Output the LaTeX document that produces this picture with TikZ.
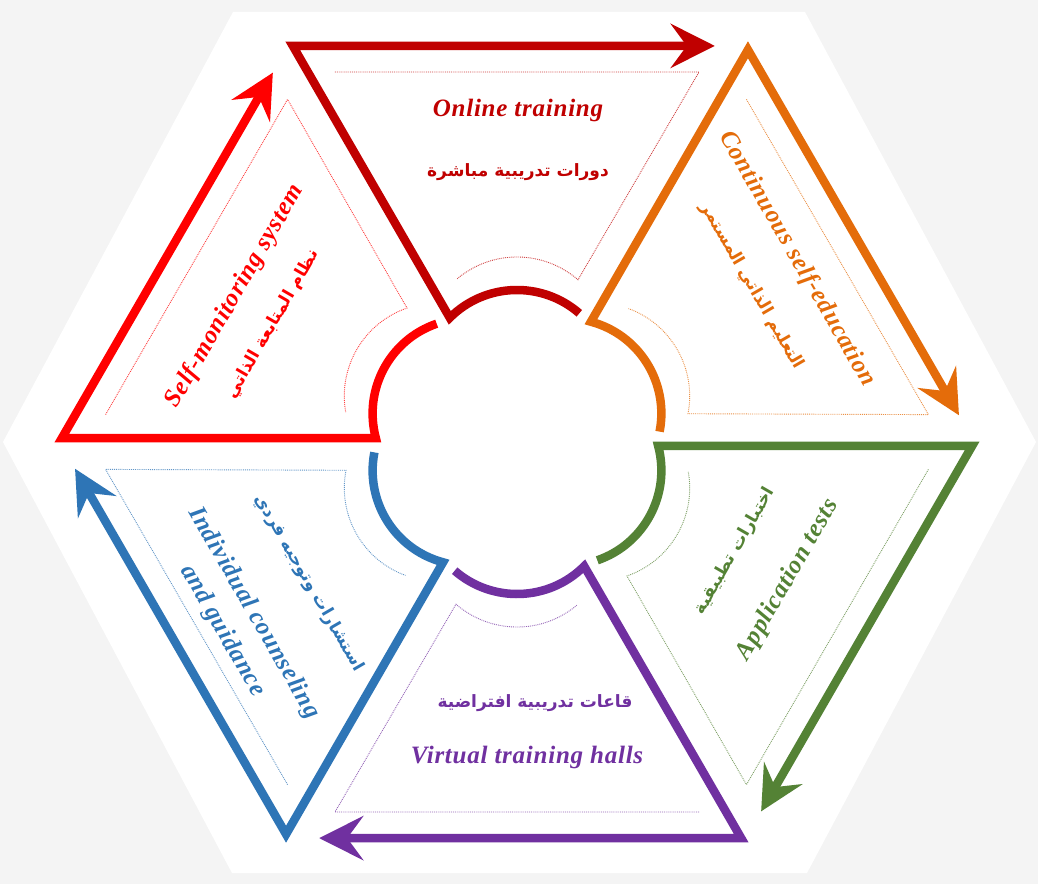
\documentclass[tikz,border=0pt]{standalone}
\usepackage{fontspec}
\newfontfamily\arabicfont[Script=Arabic]{DejaVu Sans}
\newfontfamily\englishfont[LetterSpace=3]{Liberation Serif}
\TeXXeTstate=1
\usetikzlibrary{arrows.meta}

\definecolor{bggray}{HTML}{F4F4F4}
\definecolor{segdarkred}{HTML}{C00000}
\definecolor{segorange}{HTML}{E46C0A}
\definecolor{seggreen}{HTML}{548235}
\definecolor{segpurple}{HTML}{7030A0}
\definecolor{segblue}{HTML}{2E75B6}
\definecolor{segred}{HTML}{FF0000}

\tikzset{
  band/.style={line width=8.5pt,line join=miter,-{Stealth[length=44pt,width=44pt,inset=16pt]}},
  inner/.style={densely dotted,line width=0.9pt},
  entext/.style={font=\englishfont\fontsize{25}{29}\selectfont\bfseries\itshape},
  artext/.style={font=\arabicfont\bfseries\fontsize{17}{20}\selectfont},
}

\begin{document}
\begin{tikzpicture}[x=1pt,y=1pt]
%\draw[step=50,lightgray,very thin] (-517,-442) grid (521,442);
\useasboundingbox (-517,-442) rectangle (521,442);
\fill[bggray] (-517,-442) rectangle (521,442);
\fill[white] (-284,430) -- (288,430) -- (519,0) -- (290,-431) -- (-285,-431) -- (-514,0) -- cycle;

\foreach \k/\col in {0/segdarkred,1/segorange,2/seggreen,3/segpurple,4/segblue,5/segred}{
  \begin{scope}[rotate=-60*\k]
    \draw[band,color=\col] (62.3,128.7) arc[start angle=49,end angle=135,radius=95]
      -- ++(120:314) -- ++(0:422);
    \draw[inner,color=\col!75] (-182,370) -- (182,370) -- (61,162.2)
      arc[start angle=49,end angle=130,radius=93];
  \end{scope}
}

\node[entext,text=segdarkred] (online-en) at (1,332) {Online training};
\node[artext,text=segdarkred] (online-ar) at (1,270) {\beginR دورات تدريبية مباشرة\endR};

\node[entext,text=segorange,rotate=-60] (self-en) at (280,183) {Continuous self-education};
\node[artext,text=segorange,rotate=-60] (self-ar) at (235,156) {\beginR التعليم الذاتي المستمر\endR};

\node[entext,text=seggreen,rotate=60] (tests-en) at (271,-138) {Application tests};
\node[artext,text=seggreen,rotate=60] (tests-ar) at (218,-109) {\beginR اختبارات تطبيقية\endR};

\node[entext,text=segpurple] (halls-en) at (10,-315) {Virtual training halls};
\node[artext,text=segpurple] (halls-ar) at (18,-261) {\beginR قاعات تدريبية  افتراضية\endR};

\node[entext,text=segblue,rotate=-60,align=center] (guide-en) at (-279,-180) {Individual counseling\\[7pt]and guidance};
\node[artext,text=segblue,rotate=-60] (guide-ar) at (-208,-141) {\beginR استشارات وتوجيه فردي\endR};

\node[entext,text=segred,rotate=60] (monitor-en) at (-282,146) {Self-monitoring system};
\node[artext,text=segred,rotate=60] (monitor-ar) at (-244,118) {\beginR نظام المتابعة الذاتي\endR};
\end{tikzpicture}
\end{document}
